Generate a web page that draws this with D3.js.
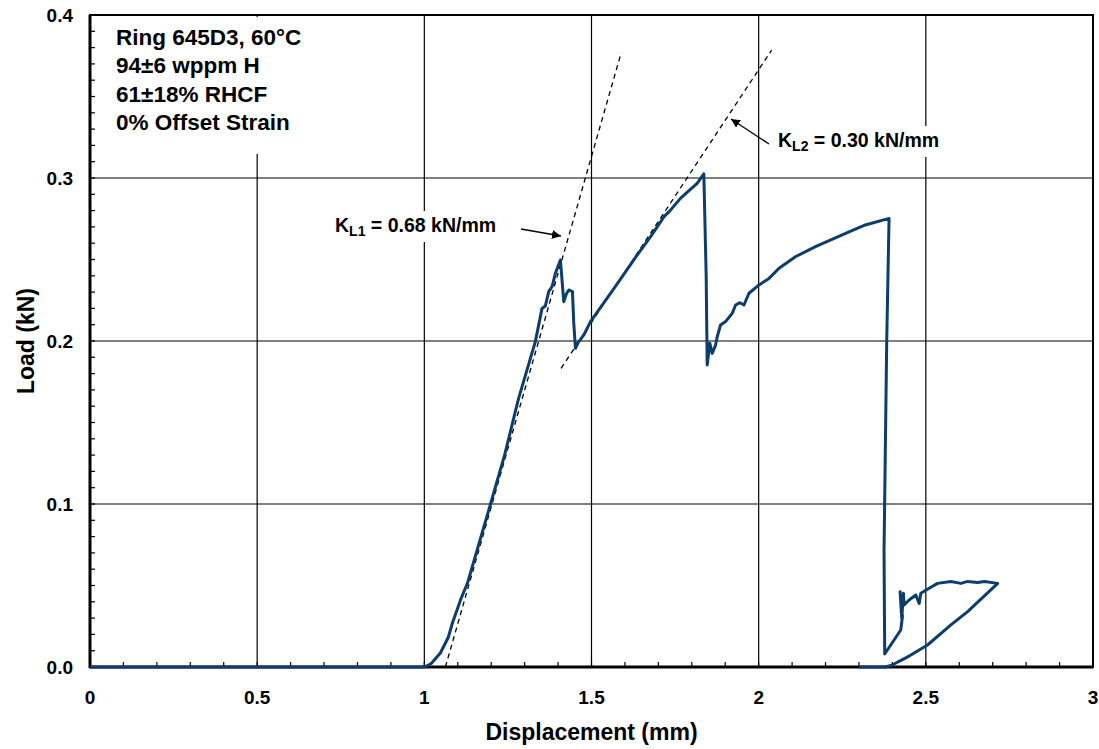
<!DOCTYPE html>
<html>
<head>
<meta charset="utf-8">
<script src="https://cdn.jsdelivr.net/npm/d3@7"></script>
<style>
  body { margin: 0; background: #fff; }
  svg { display: block; font-family: "Liberation Sans", Arial, sans-serif; font-weight: bold; }
</style>
</head>
<body>
<svg id="chart" width="1099" height="749"></svg>
<script>
// ring compression test, load vs displacement
let disp = [0, 0.5, 1.0, 1.02, 1.048, 1.072, 1.084, 1.108, 1.129, 1.158, 1.198, 1.24, 1.282, 1.332,
    1.352, 1.362, 1.372, 1.382, 1.392, 1.407, 1.417, 1.425, 1.432, 1.443, 1.447, 1.452, 1.46, 1.477, 1.497,
    1.57, 1.637, 1.68, 1.717, 1.735, 1.766, 1.79, 1.816, 1.836,
    1.843, 1.846, 1.854, 1.861, 1.871, 1.876, 1.886, 1.901, 1.921, 1.931, 1.944, 1.956, 1.971, 2.001,
    2.031, 2.061, 2.11, 2.17, 2.26, 2.319, 2.39,
    2.383, 2.375, 2.377, 2.425, 2.43, 2.423, 2.428, 2.433, 2.435, 2.45, 2.47, 2.48, 2.485, 2.51, 2.535,
    2.575, 2.605, 2.625, 2.655, 2.675, 2.715,
    2.625, 2.575, 2.505, 2.45, 2.42, 2.40, 2.38, 2.30];
let load = [0, 0, 0, 0.002, 0.0086, 0.0184, 0.027, 0.041, 0.0515, 0.0718, 0.100, 0.130, 0.1648, 0.1996,
    0.2200, 0.2215, 0.2303, 0.2333, 0.2415, 0.2497, 0.2241, 0.2290, 0.2313, 0.2303, 0.2109, 0.1955, 0.1990, 0.2037, 0.2119,
    0.2330, 0.2528, 0.2650, 0.2763, 0.2800, 0.2875, 0.2920, 0.2967, 0.3025,
    0.2400, 0.1853, 0.1986, 0.1924, 0.1975, 0.2026, 0.2098, 0.2119, 0.2170, 0.2221, 0.2235, 0.2221, 0.2293, 0.2344,
    0.2384, 0.2446, 0.2517, 0.2579, 0.2660, 0.2712, 0.2752,
    0.1996, 0.0718, 0.008, 0.0227, 0.031, 0.0462, 0.030, 0.0452, 0.038, 0.0411, 0.0442, 0.039, 0.0452, 0.0483, 0.0513,
    0.0524, 0.0513, 0.0525, 0.0519, 0.0524, 0.0513,
    0.034, 0.0258, 0.0135, 0.0067, 0.0035, 0.0012, 0, 0];

// fitted stiffness lines [x1, y1, x2, y2]
let fitL1 = [1.063, 0.0, 1.589, 0.377];
let fitL2 = [1.409, 0.1832, 2.039, 0.3785];

let xTicks = [0, 0.5, 1, 1.5, 2, 2.5, 3];
let yTicks = [0, 0.1, 0.2, 0.3, 0.4];
let infoLines = ["Ring 645D3, 60°C", "94±6 wppm H", "61±18% RHCF", "0% Offset Strain"];

let svg = d3.select("#chart");
let pLeft = 90, pRight = 1093, pTop = 15, pBottom = 667;

let x = d3.scaleLinear().domain([0, 3]).range([pLeft, pRight]);
let y = d3.scaleLinear().domain([0, 0.4]).range([pBottom, pTop]);

// gridlines
svg.append("g").selectAll("line").data(xTicks).enter().append("line")
    .attr("x1", d => x(d)).attr("x2", d => x(d))
    .attr("y1", pTop).attr("y2", pBottom)
    .attr("stroke", "#000").attr("stroke-width", 1.2);
svg.append("g").selectAll("line").data(yTicks).enter().append("line")
    .attr("x1", pLeft).attr("x2", pRight)
    .attr("y1", d => y(d)).attr("y2", d => y(d))
    .attr("stroke", "#000").attr("stroke-width", 1.2);

// minor ticks, inside the frame
svg.append("g").selectAll("line").data(d3.range(1, 30)).enter().append("line")
    .attr("x1", d => x(d / 10)).attr("x2", d => x(d / 10))
    .attr("y1", pBottom).attr("y2", pBottom - 5)
    .attr("stroke", "#000").attr("stroke-width", 1.2);
svg.append("g").selectAll("line").data(d3.range(1, 40)).enter().append("line")
    .attr("x1", pLeft).attr("x2", pLeft + 5)
    .attr("y1", d => y(d / 100)).attr("y2", d => y(d / 100))
    .attr("stroke", "#000").attr("stroke-width", 1.2);

// frame
svg.append("rect").attr("x", pLeft).attr("y", pTop)
    .attr("width", pRight - pLeft).attr("height", pBottom - pTop)
    .attr("fill", "none").attr("stroke", "#000").attr("stroke-width", 2);
svg.append("line").attr("x1", pLeft).attr("x2", pLeft).attr("y1", pTop).attr("y2", pBottom + 1)
    .attr("stroke", "#000").attr("stroke-width", 3);
svg.append("line").attr("x1", pLeft - 1).attr("x2", pRight).attr("y1", pBottom).attr("y2", pBottom)
    .attr("stroke", "#000").attr("stroke-width", 3);

// tick labels
svg.append("g").selectAll("text").data(yTicks).enter().append("text")
    .attr("x", 73).attr("y", d => y(d)).attr("dy", "0.36em")
    .attr("text-anchor", "end").attr("font-size", 19)
    .text(d => d3.format(".1f")(d));
svg.append("g").selectAll("text").data(xTicks).enter().append("text")
    .attr("x", d => x(d)).attr("y", 704)
    .attr("text-anchor", "middle").attr("font-size", 19)
    .text(d => d);

// axis titles
svg.append("text").attr("x", (pLeft + pRight) / 2).attr("y", 740)
    .attr("text-anchor", "middle").attr("font-size", 23)
    .text("Displacement (mm)");
svg.append("text").attr("transform", "translate(34," + ((pTop + pBottom) / 2) + ") rotate(-90)")
    .attr("text-anchor", "middle").attr("font-size", 23)
    .text("Load (kN)");

// specimen info block (white box hides the grid behind it)
svg.append("rect").attr("x", 104).attr("y", pTop + 2).attr("width", 215).attr("height", 137).attr("fill", "#fff");
svg.append("g").selectAll("text").data(infoLines).enter().append("text")
    .attr("x", 116).attr("y", (d, i) => 45 + i * 28.3)
    .attr("font-size", 22.5)
    .text(d => d);

// stiffness labels
function kLabel(px, py, sub, val) {
    let g = svg.append("g");
    let t = g.append("text").attr("x", px).attr("y", py).attr("font-size", 19.5);
    t.append("tspan").text("K");
    t.append("tspan").attr("font-size", 14).attr("dy", 4).text(sub);
    t.append("tspan").attr("dy", -4).text(" = " + val + " kN/mm");
    let b = t.node().getBBox();
    g.insert("rect", "text").attr("x", b.x - 4).attr("y", b.y - 3)
        .attr("width", b.width + 8).attr("height", b.height + 6).attr("fill", "#fff");
}
kLabel(335, 232, "L1", "0.68");
kLabel(778, 147, "L2", "0.30");

// arrows
svg.append("defs").append("marker").attr("id", "head")
    .attr("viewBox", "0 0 10 10").attr("refX", 10).attr("refY", 5)
    .attr("markerWidth", 9).attr("markerHeight", 9).attr("markerUnits", "userSpaceOnUse")
    .attr("orient", "auto")
    .append("path").attr("d", "M0,0 L10,5 L0,10 z").attr("fill", "#000");
svg.append("line").attr("x1", 521).attr("y1", 229).attr("x2", 561).attr("y2", 236)
    .attr("stroke", "#000").attr("stroke-width", 1.3).attr("marker-end", "url(#head)");
svg.append("line").attr("x1", 769).attr("y1", 144).attr("x2", 731).attr("y2", 119)
    .attr("stroke", "#000").attr("stroke-width", 1.3).attr("marker-end", "url(#head)");

// fitted lines
[fitL1, fitL2].forEach(f => {
    svg.append("line")
        .attr("x1", x(f[0])).attr("y1", y(f[1]))
        .attr("x2", x(f[2])).attr("y2", y(f[3]))
        .attr("stroke", "#000").attr("stroke-width", 1.3)
        .attr("stroke-dasharray", "5,4");
});

// test curve
let pts = disp.map((d, i) => [d, load[i]]);
let line = d3.line().x(d => x(d[0])).y(d => y(d[1]));
svg.append("path").datum(pts)
    .attr("d", line)
    .attr("fill", "none")
    .attr("stroke", "#0c3d6d")
    .attr("stroke-width", 3)
    .attr("stroke-linejoin", "round");
</script>
</body>
</html>
